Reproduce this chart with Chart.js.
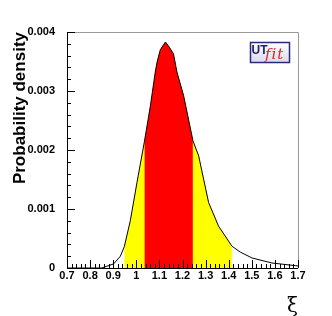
<!DOCTYPE html>
<html>
<head>
<meta charset="utf-8">
<script src="https://cdn.jsdelivr.net/npm/chart.js@4/dist/chart.umd.min.js"></script>
<style>
  html, body { margin: 0; padding: 0; background: #fff; overflow: hidden; }
  canvas { display: block; }
</style>
</head>
<body>
<canvas id="chartXi" width="332" height="316"></canvas>
<script>
// curve
const xi = [0.70, 0.85, 0.873, 0.902, 0.931, 0.948, 0.974, 1.003, 1.035, 1.061, 1.082, 1.090, 1.104, 1.126,
  1.140, 1.161, 1.176, 1.205, 1.245, 1.270, 1.313, 1.356, 1.414, 1.450, 1.501, 1.587, 1.688, 1.700];
const density = [0, 0, 0.00003, 0.00007, 0.0002, 0.00036, 0.0008, 0.00145, 0.00214, 0.00275, 0.00332, 0.00349,
  0.0037, 0.00383, 0.00376, 0.00363, 0.00332, 0.00292, 0.00216, 0.0019, 0.00111, 0.00071, 0.00037, 0.00027,
  0.00017, 0.000085, 0.00004, 0.000035];
const band95 = [0.948, 1.414];
const band68 = [1.035, 1.245];
const xTicks = ['0.7', '0.8', '0.9', '1', '1.1', '1.2', '1.3', '1.4', '1.5', '1.6', '1.7'];
const yTicks = ['0', '0.001', '0.002', '0.003', '0.004'];

const pts = xi.map((x, i) => ({ x: x, y: density[i] }));
const inBand = b => pts.filter(p => p.x >= b[0] - 1e-9 && p.x <= b[1] + 1e-9);

const labelFont = { family: 'Liberation Sans', size: 11, weight: 'bold' };

// ROOT style frame, inner ticks and the UTfit logo
const rootFrame = {
  id: 'rootFrame',
  afterDatasetsDraw(chart) {
    const ctx = chart.ctx, a = chart.chartArea;
    const xs = chart.scales.x, ys = chart.scales.y;
    ctx.save();
    ctx.strokeStyle = '#999';
    ctx.lineWidth = 1;
    ctx.beginPath();
    ctx.moveTo(a.left, a.top + 0.5); ctx.lineTo(a.right + 0.5, a.top + 0.5); ctx.lineTo(a.right + 0.5, a.bottom);
    ctx.stroke();

    ctx.strokeStyle = '#000';
    ctx.beginPath();
    ctx.moveTo(a.left + 0.5, a.top); ctx.lineTo(a.left + 0.5, a.bottom + 0.5); ctx.lineTo(a.right, a.bottom + 0.5);
    for (let k = 0; k <= 50; k++) {
      const px = Math.round(xs.getPixelForValue(0.7 + k * 0.02)) + 0.5;
      const len = k % 5 === 0 ? 8 : 4;
      ctx.moveTo(px, a.bottom); ctx.lineTo(px, a.bottom - len);
    }
    for (let k = 0; k <= 20; k++) {
      const py = Math.round(ys.getPixelForValue(k * 0.0002)) + 0.5;
      const len = k % 5 === 0 ? 8 : 4;
      ctx.moveTo(a.left, py); ctx.lineTo(a.left + len, py);
    }
    ctx.stroke();

    // logo
    const g = ctx.createLinearGradient(0, 42, 0, 62);
    g.addColorStop(0, '#ffffff'); g.addColorStop(1, '#dcdcec');
    ctx.fillStyle = g;
    ctx.fillRect(250, 42, 40, 21);
    ctx.strokeStyle = '#2a2a7a';
    ctx.lineWidth = 1.5;
    ctx.strokeRect(250.5, 42.5, 39, 20);
    ctx.fillStyle = '#1c1c78';
    ctx.font = 'bold 12px "Liberation Sans"';
    ctx.textBaseline = 'alphabetic';
    ctx.fillText('UT', 251.5, 53.5);
    ctx.fillStyle = '#d42a2a';
    ctx.font = 'italic 15px "DejaVu Serif"';
    ctx.letterSpacing = '1px';
    ctx.fillText('fit', 265, 59);
    ctx.restore();
  }
};

new Chart(document.getElementById('chartXi').getContext('2d'), {
  type: 'line',
  data: {
    datasets: [
      { data: pts, borderColor: '#000', borderWidth: 1, fill: false, order: 0 },
      { data: inBand(band68), borderColor: 'rgba(0,0,0,0)', borderWidth: 0, backgroundColor: '#ff0000', fill: 'origin', order: 1 },
      { data: inBand(band95), borderColor: 'rgba(0,0,0,0)', borderWidth: 0, backgroundColor: '#ffff00', fill: 'origin', order: 2 }
    ]
  },
  options: {
    responsive: false,
    animation: false,
    devicePixelRatio: 1,
    layout: { padding: { top: 32, right: 34, left: 0, bottom: 0 } },
    elements: { point: { radius: 0 }, line: { tension: 0 } },
    plugins: { legend: { display: false }, tooltip: { enabled: false } },
    scales: {
      x: {
        type: 'linear', min: 0.7, max: 1.7,
        grid: { display: false }, border: { display: false },
        afterFit: s => { s.height = 48; },
        afterBuildTicks: s => { s.ticks = xTicks.map(t => ({ value: +t })); },
        ticks: { color: '#000', font: labelFont, padding: -7, maxRotation: 0, autoSkip: false,
          callback: v => xTicks.find(t => Math.abs(+t - v) < 1e-6) || '' },
        title: { display: true, text: 'ξ', align: 'end', color: '#000',
          font: { family: 'DejaVu Serif', size: 20 }, padding: { bottom: -3 } }
      },
      y: {
        min: 0, max: 0.004,
        grid: { display: false }, border: { display: false },
        afterFit: s => { s.width = 67; },
        afterBuildTicks: s => { s.ticks = yTicks.map(t => ({ value: +t })); },
        ticks: { color: '#000', font: labelFont, padding: 4,
          callback: v => yTicks.find(t => Math.abs(+t - v) < 1e-9) || '' },
        title: { display: true, text: 'Probability density', align: 'end', color: '#000',
          font: { family: 'Liberation Sans', size: 17, weight: 'bold' }, padding: { top: 10 } }
      }
    }
  },
  plugins: [rootFrame]
});
</script>
</body>
</html>
